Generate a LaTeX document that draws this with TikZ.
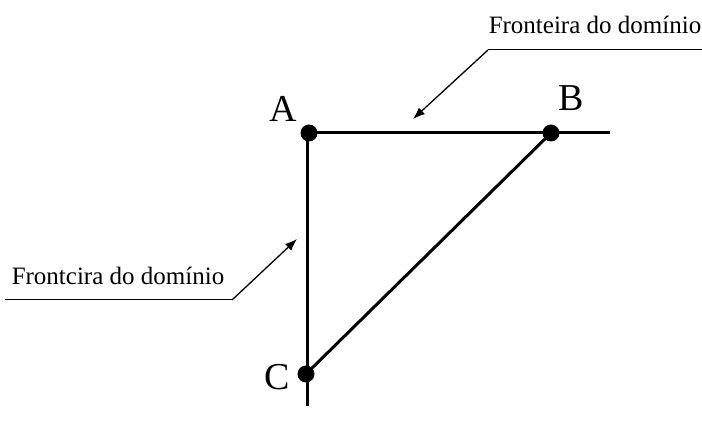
\documentclass[tikz,border=0pt]{standalone}
\usepackage{fontspec}
\setmainfont{Liberation Serif}
\usetikzlibrary{arrows.meta}
\begin{document}
\begin{tikzpicture}[x=1pt,y=-1pt,
  main/.style={line width=3pt},
  dotpt/.style={circle,fill=black,inner sep=0pt,minimum size=17pt},
  lbl/.style={font=\fontsize{25}{28}\selectfont,inner sep=0pt},
  ptl/.style={font=\fontsize{38}{40}\selectfont,inner sep=0pt},
  lead/.style={line width=1.3pt,-{Latex[length=12pt,width=9pt]}},
  uline/.style={line width=1pt}]
\useasboundingbox (0,0) rectangle (702,435);
\coordinate (A) at (309,133);
\coordinate (Av) at (307,133);
\coordinate (B) at (551,133);
\coordinate (C) at (306,374);
\coordinate (Hend) at (610,133);
\coordinate (Vend) at (307,406);
\draw[main] (A) -- (Hend);
\draw[main] (Av) -- (Vend);
\draw[main] (B) -- (C);
\node[dotpt] (dA) at (A) {};
\node[dotpt] (dB) at (B) {};
\node[dotpt] (dC) at (C) {};
\node[ptl] (la) at (283,109) {A};
\node[ptl] (lb) at (571,98) {B};
\node[ptl] (lc) at (277,377) {C};
% top label
\node[lbl] (t1) at (595,25) {Fronteira do domínio};
\coordinate (u1a) at (488,50);
\coordinate (u1b) at (702,50);
\coordinate (tip1) at (413,119);
\draw[uline] (u1b) -- (u1a);
\draw[lead] (u1a) -- (tip1);
% left label
\node[lbl] (t2) at (118,276) {Frontcira do domínio};
\coordinate (u2a) at (5,300);
\coordinate (u2b) at (232,300);
\coordinate (tip2) at (297,239);
\draw[uline] (u2a) -- (u2b);
\draw[lead] (u2b) -- (tip2);
\end{tikzpicture}
\end{document}
